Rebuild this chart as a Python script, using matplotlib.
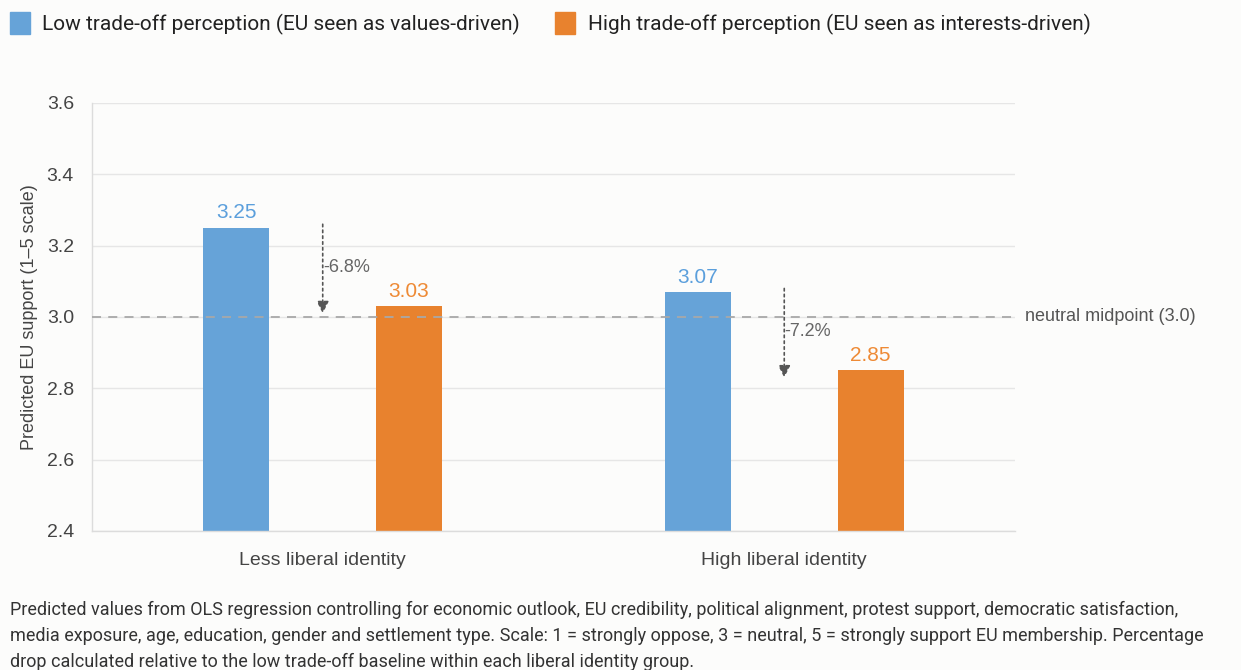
import matplotlib
matplotlib.use("Agg")
import matplotlib.pyplot as plt
from matplotlib.patches import Rectangle
import numpy as np

# Data
groups = ["Less liberal identity", "High liberal identity"]
series_names = [
    "Low trade-off perception (EU seen as values-driven)",
    "High trade-off perception (EU seen as interests-driven)",
]
low_tradeoff = [3.25, 3.07]
high_tradeoff = [3.03, 2.85]
pct_drop = ["-6.8%", "-7.2%"]
y_ticks = [2.4, 2.6, 2.8, 3.0, 3.2, 3.4, 3.6]
midpoint = 3.0

BLUE = "#66a3d8"
ORANGE = "#e8822e"
BLUE_TXT = "#5b9fdc"
ORANGE_TXT = "#ee8a35"
GRAY = "#555555"
BG = "#fcfcfb"

plt.rcParams["font.family"] = ["Liberation Sans", "DejaVu Sans"]

fig = plt.figure(figsize=(12.41, 6.70), dpi=100, facecolor=BG)
ax = fig.add_axes([0.0741, 0.2075, 0.7438, 0.6388], facecolor=BG)

x = np.arange(len(groups))
w = 0.143
off = 0.187
ax.bar(x - off, low_tradeoff, w, color=BLUE, bottom=0, zorder=2)
ax.bar(x + off, high_tradeoff, w, color=ORANGE, bottom=0, zorder=2)

ax.set_ylim(2.4, 3.6)
ax.set_xlim(-0.5, 1.5)
ax.set_yticks(y_ticks)
ax.set_yticklabels([f"{v:.1f}" for v in y_ticks])
ax.set_xticks(x)
ax.set_xticklabels(groups)
ax.tick_params(axis="both", length=0, colors="#444444")
ax.tick_params(axis="y", labelsize=14, pad=13)
ax.tick_params(axis="x", labelsize=14, pad=15)
ax.grid(axis="y", color="#e6e6e6", linewidth=1, zorder=0)
for s in ["top", "right"]:
    ax.spines[s].set_visible(False)
for s in ["left", "bottom"]:
    ax.spines[s].set_color("#dcdcdc")
    ax.spines[s].set_linewidth(1)

ax.set_ylabel("Predicted EU support (1–5 scale)", fontsize=13, color="#444444", labelpad=6)

# Neutral midpoint reference line
ax.axhline(midpoint, color="#a8a8a8", linestyle=(0, (5, 4)), linewidth=1.3, zorder=3)
ax.annotate("neutral midpoint (3.0)", xy=(1.0, midpoint), xycoords=("axes fraction", "data"),
            xytext=(7, 0), textcoords="offset points", va="center", ha="left",
            fontsize=13, color="#555555", annotation_clip=False)

# Value labels
for i in range(len(groups)):
    ax.text(x[i] - off, low_tradeoff[i] + 0.015, f"{low_tradeoff[i]:.2f}", ha="center",
            va="bottom", fontsize=15, color=BLUE_TXT)
    ax.text(x[i] + off, high_tradeoff[i] + 0.015, f"{high_tradeoff[i]:.2f}", ha="center",
            va="bottom", fontsize=15, color=ORANGE_TXT)
    # Drop arrow between the pair
    ax.annotate("", xy=(x[i], high_tradeoff[i] - 0.02), xytext=(x[i], low_tradeoff[i] + 0.01),
                arrowprops=dict(arrowstyle="-|>", linestyle=(0, (1.5, 2)), color=GRAY,
                                lw=1.2, mutation_scale=18, shrinkA=0, shrinkB=0), zorder=4)
    ax.text(x[i] + 0.001, (low_tradeoff[i] + high_tradeoff[i]) / 2, pct_drop[i], ha="left",
            va="center", fontsize=13, color="#666666")

# Legend across the top
leg_font = ["Roboto", "DejaVu Sans"]
fig.patches.append(Rectangle((10 / 1241, 1 - 34 / 670), 20 / 1241, 22 / 670,
                             transform=fig.transFigure, color=BLUE))
fig.text(42 / 1241, 1 - 24 / 670, series_names[0], fontsize=15, va="center", ha="left",
         color="#222222", family=leg_font)
fig.patches.append(Rectangle((555 / 1241, 1 - 34 / 670), 20 / 1241, 22 / 670,
                             transform=fig.transFigure, color=ORANGE))
fig.text(588 / 1241, 1 - 24 / 670, series_names[1], fontsize=15, va="center", ha="left",
         color="#222222", family=leg_font)

# Footnote
note = ("Predicted values from OLS regression controlling for economic outlook, EU credibility, political alignment, protest support, democratic satisfaction,\n"
        "media exposure, age, education, gender and settlement type. Scale: 1 = strongly oppose, 3 = neutral, 5 = strongly support EU membership. Percentage\n"
        "drop calculated relative to the low trade-off baseline within each liberal identity group.")
fig.text(10 / 1241, 1 - 601 / 670, note, fontsize=13, va="top", ha="left", color="#333333",
         linespacing=1.55, family=leg_font)

fig.savefig("out.png", dpi=100, facecolor=BG)
